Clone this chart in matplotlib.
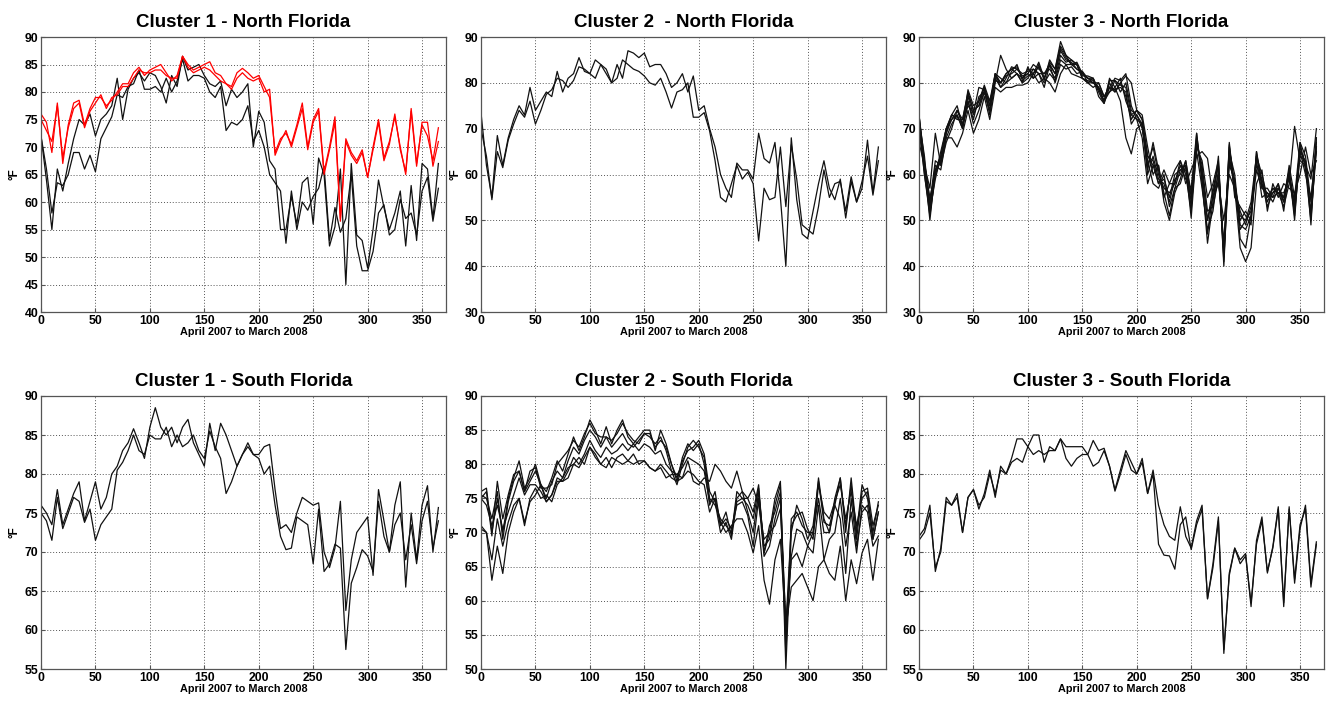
import numpy as np
import matplotlib
matplotlib.use("Agg")
import matplotlib.pyplot as plt

plt.rcParams["font.family"] = ["Liberation Sans", "DejaVu Sans"]
plt.rcParams["font.weight"] = "bold"

# day of year, sampled every 5 days (April 2007 to March 2008)
days = np.arange(0, 366, 5)

# ---- Cluster 1 - North Florida ----
c1n_red_a = [76, 74.5, 69, 78, 67, 74, 78, 78.5, 74, 77,
             79, 79, 77.5, 78.5, 80, 81.5, 81.5, 83.5, 84.5, 83,
             84, 84.5, 85, 83.5, 82, 83, 86.5, 85, 84, 84.5,
             85, 85.5, 83.5, 83, 81.5, 81, 83.5, 84.3, 83.5, 82.5,
             83, 81, 79, 69, 71.5, 72.5, 70.5, 74, 78, 70,
             75, 77, 65.5, 70, 75.5, 57, 71.5, 69, 67.5, 69.5,
             64.5, 70, 75, 68, 71, 75.5, 70, 65, 77, 67,
             74, 72, 67.5, 73.5]
c1n_red_b = [75, 73, 71, 77.5, 68, 73.5, 77, 78, 73.5, 76.5,
             78, 79.5, 77, 79, 79.5, 81, 81, 82.5, 84, 83.5,
             83.5, 84, 84, 83, 82.5, 82.5, 86.5, 84.5, 83.5, 84,
             84.5, 84, 83, 82, 81.5, 80.5, 82.5, 83.5, 82.5, 82,
             82.5, 80, 80.5, 68.5, 71, 73, 70, 73.5, 77, 69.5,
             74.5, 76.5, 65, 69.5, 74.5, 56.5, 71, 68.5, 67, 69,
             64.5, 69.5, 74.5, 67.5, 70.5, 76, 69.5, 65.5, 76.5, 66.5,
             74.5, 74.5, 66.5, 71]
c1n_black_a = [72, 64, 55, 66, 62, 67, 71.5, 75, 74, 76,
               72, 75, 76, 77.5, 82.5, 75, 80.5, 82.5, 83.5, 82,
               83.5, 83, 81, 78, 83, 81, 86.5, 84, 84.5, 85,
               83, 81.5, 81, 82, 77.5, 80.5, 79, 80, 81.5, 70,
               76.5, 74.5, 67.5, 66, 55, 55, 61, 56, 63.5, 64.5,
               56, 68, 65, 52, 55.5, 66, 45, 67, 54, 53,
               48, 55, 64, 59, 55, 58, 62, 52, 63, 53,
               67, 66, 57, 67]
c1n_black_b = [72, 66, 58, 63.5, 63, 65, 69, 69, 66, 68.5,
               65.5, 71.5, 73.5, 75.5, 79.5, 79, 81, 81.5, 84, 80.5,
               80.5, 81, 80, 82.5, 80, 82, 86, 82, 83, 83,
               82.5, 80, 79, 81, 73, 74.5, 74, 75, 77.5, 71,
               73, 70, 65, 63.5, 62, 52.5, 62, 55, 60, 58.5,
               61, 62.5, 66.5, 53, 59, 54.5, 57, 65, 52, 47.5,
               47.5, 51, 58, 59.5, 54, 55, 60.5, 57, 58, 54,
               62, 64.5, 56.5, 62.5]

# ---- Cluster 2 - North Florida ----
c2n_a = [73.5, 62, 55, 68.5, 62, 68, 72, 75, 73, 79,
         74, 76, 78, 77, 82.5, 78, 81, 82, 85.5, 82.5,
         82, 85, 84, 82, 80, 84, 81, 87, 86.5, 85.5,
         86.5, 83.5, 84, 84, 82, 79, 80, 82, 78, 81.5,
         74, 75, 70, 66, 60, 57, 55, 62.5, 61, 61,
         59, 69, 63.5, 62.5, 67, 55, 40, 68, 54.5, 47,
         46, 52, 58, 63, 57, 54.5, 59, 50.5, 58.5, 54,
         57, 67.5, 56, 66]
c2n_b = [70, 64, 54.5, 65, 61.5, 67.5, 71, 74, 72.5, 76,
         71, 74, 77.5, 78.5, 81, 80.5, 79, 80.5, 83.5, 83,
         82, 81, 84, 83, 80, 81, 85, 84, 83, 82.5,
         81.5, 80, 79.5, 81, 78, 74.5, 78, 78.5, 80, 72.5,
         72.5, 73.5, 69.5, 63, 55, 54, 58, 62, 59, 60.5,
         58, 45.5, 57, 54.5, 55, 66, 53, 66.5, 59, 49,
         48, 47, 53, 61, 55, 58, 58.5, 52, 59.5, 54,
         58.5, 64, 55.5, 63]

# ---- Cluster 3 - North Florida ----
c3n_1 = [73, 62, 50, 61, 63, 69, 73, 72.5, 71, 77,
         73, 76, 79, 75, 81.5, 80, 82, 83, 83.5, 81,
         83, 82, 83.5, 81, 84, 82, 87, 85, 84.5, 83,
         82, 81, 80.5, 79, 76, 80, 78, 80, 77, 72,
         74, 72, 64, 63, 58, 59, 55, 60, 61, 62,
         54, 68, 60, 50, 55, 60, 43, 66, 58, 51,
         50, 52, 64, 58, 55, 56, 57, 55, 60, 53,
         66, 62, 52, 66]
c3n_2 = [72, 64, 52, 59, 64, 70, 72, 74, 72, 78,
         74, 75, 78, 74, 82, 79, 81, 83.5, 83, 81.5,
         82, 81, 84, 80.5, 85, 83, 88, 86, 85, 84,
         81.5, 81.5, 81, 78, 75.5, 81, 79, 81, 76, 73,
         72, 71, 62, 66, 60, 57, 56, 58, 63, 60,
         52, 69, 58, 47, 56, 62, 41, 67, 56, 50,
         52, 50, 65, 57, 56, 55, 58, 54, 62, 55,
         67, 64, 54, 68]
c3n_3 = [73, 61, 53, 62, 61, 68, 71, 73, 70, 76,
         72, 77, 78, 76, 80.5, 80, 81.5, 82, 83, 82,
         82.5, 83, 82, 82, 83, 81, 86, 84.5, 85, 84,
         81, 80.5, 80, 80, 77, 79, 78.5, 79, 78, 71,
         73, 71, 60, 64, 59, 58, 54, 59, 60, 63,
         56, 67, 62, 52, 53, 59, 45, 64, 57, 52,
         49, 53, 62, 59, 54, 57, 56, 56, 59, 52,
         64, 63, 51, 65]
c3n_4 = [70, 62, 57, 69, 62, 67, 70, 74, 71, 75,
         73.5, 79, 78.5, 73, 80, 86, 83, 81, 82, 80,
         81, 83, 82, 80, 82, 80.5, 85, 84, 84, 83,
         82.5, 81, 80, 79, 76, 78, 79, 76, 68, 64.5,
         70, 71, 61, 67, 61, 56, 51, 57, 58, 62,
         50.5, 66, 63, 55, 58, 63, 42, 62, 59, 46,
         44, 51, 61, 57, 57, 55, 56, 53, 58, 70.5,
         63, 62, 59, 70]
c3n_5 = [67, 62, 55, 60, 63, 68, 68, 66, 69, 74,
         69, 72, 77, 72, 79, 78, 79, 79, 79.5, 79.5,
         80, 82, 80, 81, 80, 78, 82, 84, 82, 81.5,
         81, 80, 81, 77, 75.5, 79, 81, 80.5, 82, 75,
         72, 68, 58, 62, 58, 61, 58, 61, 63, 58,
         61, 64, 65, 63.5, 55, 58, 50, 60, 57, 44,
         41, 44, 58, 61, 52, 58, 55, 58, 57, 56,
         60, 66, 60, 63]
c3n_6 = [72, 60, 51, 60, 65, 70, 73, 75, 70.5, 78.5,
         75, 76, 79.5, 76, 82, 81, 80, 82.5, 84, 80.5,
         81.5, 82, 84.5, 81, 84.5, 83, 89, 86, 84, 84.5,
         82, 81, 81, 78.5, 76, 80.5, 80.5, 79.5, 79, 73,
         74, 73, 66, 60, 62, 55, 58, 58, 62, 59,
         57, 69, 59, 45, 54, 64, 40, 66.5, 55, 53,
         51, 49, 65, 58, 53, 56, 58, 52, 61, 50,
         67, 61, 50, 67]
c3n_7 = [73, 63, 54, 63, 62, 69, 72, 73, 70, 76,
         71, 74, 78, 74, 81, 79, 80, 81, 82, 80,
         83.5, 81, 82, 79, 84, 80, 84, 83, 83.5, 82,
         82.5, 80, 79, 80, 77, 78, 80.5, 78, 80, 74,
         73, 70, 63, 58, 57, 60, 53, 57, 61, 61,
         53, 65, 57, 48, 52, 61, 44, 63, 58, 49,
         48, 51, 63, 55, 56, 54, 57, 54, 60, 54,
         65, 60, 55, 66]
c3n_8 = [70, 60, 52, 61, 64, 70, 73, 72, 72, 77.5,
         74, 75, 79, 75, 82, 80, 82, 83, 82, 81,
         82, 84, 83, 82, 84, 82, 87.5, 85.5, 84, 84,
         81, 80, 80, 79, 77, 79, 78, 80, 81.5, 80,
         74, 72, 64, 62, 62, 54, 50, 56, 59, 63,
         55, 67, 61, 50, 57, 62, 43, 65, 60, 48,
         50, 54, 64, 60, 55, 57, 56, 55, 61, 51,
         65, 63, 49, 68]

# ---- Cluster 1 - South Florida ----
c1s_a = [76, 75, 73.5, 78, 73.5, 75.5, 77.5, 79, 74, 76.5,
         79, 75.5, 77, 80, 81, 83, 84, 85.8, 84, 82,
         86, 88.5, 86, 85, 86, 84, 86, 87, 84, 82.5,
         81, 86.5, 83, 86.5, 85, 83, 81, 82.5, 83.5, 82.5,
         82.5, 83.5, 83.8, 78, 73, 73.5, 72.5, 75, 77, 76.5,
         76, 76.3, 70, 68, 70.5, 76.5, 62.5, 69, 72.5, 73.5,
         74.5, 67, 78, 74, 70, 76, 79, 65.5, 75, 69,
         76, 78.5, 70, 75.7]
c1s_b = [75, 74, 71.5, 77, 73, 75, 77, 76.5, 73.8, 75.5,
         71.5, 73.5, 74.5, 75.5, 80.5, 81.5, 83, 85, 83, 82.5,
         85, 84.5, 84.5, 86, 83.5, 85, 83.5, 84, 85, 83,
         82, 85.5, 83.5, 82, 77.5, 79, 81, 82.5, 84, 82.5,
         82, 80, 81, 76, 72, 70.3, 70.5, 74.5, 74, 73.5,
         68.5, 75.5, 67.5, 68.5, 71, 70.5, 57.5, 66, 68, 70.3,
         69.5, 67.5, 76.5, 72, 70, 73.5, 75, 69, 73.5, 68.5,
         74, 76.5, 70.5, 74]

# ---- Cluster 2 - South Florida ----
c2s_1 = [76, 76.5, 70, 75, 70, 75, 78, 80.5, 76.5, 78,
         80, 77, 76, 78, 80.5, 79, 81.5, 84, 82, 84,
         86.5, 85, 83, 85.5, 83, 85, 86.5, 84, 83, 84,
         85, 85, 82, 85, 83, 80, 77.5, 81, 83, 82,
         83, 80, 74, 76, 71, 73, 69.5, 76, 75, 75,
         73, 77, 67, 70, 75, 77.5, 52, 72, 73, 71,
         70, 70, 78, 72, 70, 75, 78, 70, 78, 70,
         77, 75, 70, 74.5]
c2s_2 = [75, 76, 69.5, 77.5, 72, 75.5, 78.5, 79, 76, 79,
         79.5, 76.5, 76.5, 77, 80, 81, 82, 83.5, 82.5, 84.5,
         86, 84.5, 84, 84, 83.5, 84.5, 86, 84.5, 83.5, 83,
         84.5, 84, 83, 84, 82, 79, 77, 80, 82.5, 83.5,
         82.5, 81, 75, 74, 72, 71, 70, 75, 76, 73,
         70, 76, 68, 69, 74, 77, 50, 70, 74, 72,
         69, 71, 77.5, 71.5, 71, 74, 78, 71, 77, 69,
         76, 76.5, 71, 74]
c2s_3 = [75.5, 75, 72, 76, 69, 74.5, 77.5, 79, 76, 77.5,
         79, 77, 75, 77.5, 79, 78, 80.5, 82.5, 81.5, 83.5,
         85, 84, 82.5, 84, 82.5, 83.5, 84.5, 83, 82.5, 83.5,
         84.5, 84.5, 82.5, 83.5, 82.5, 80, 78, 80.5, 82, 82.5,
         83.5, 81.5, 76, 74.5, 70, 71.5, 69, 74.5, 75, 74,
         72, 76.5, 67, 71, 73, 76, 56, 71, 72.5, 73,
         70.5, 69, 77, 73, 72, 74.5, 77, 72, 76, 71,
         75, 76, 69, 73]
c2s_4 = [75, 74, 71, 74, 70.5, 73, 75.5, 78, 75.5, 77,
         77, 76, 74.5, 75.5, 78, 77.5, 79, 81, 80, 81.5,
         83.5, 82, 81, 82.5, 81.5, 82, 83, 82, 83, 82,
         83, 82.5, 81.5, 82, 80, 79, 78.5, 79.5, 81, 80.5,
         80, 79, 74.5, 75, 71, 72, 70.5, 74, 74.5, 72.5,
         68, 75, 66.5, 68, 72, 75, 54, 66.5, 70.5, 70,
         68, 67, 74, 66, 69, 70, 75, 68, 73, 67,
         74, 73, 68, 69.5]
c2s_5 = [70.5, 70, 66, 72, 68, 71.5, 74, 75, 71.5, 74.5,
         75.5, 77, 74.5, 75.5, 77.5, 77.5, 78, 80, 79.5, 81,
         82.5, 81.5, 80, 81, 79.5, 81, 81.5, 80.5, 81.5, 80,
         80.5, 79.5, 79, 80, 79, 78, 77.5, 78, 80.5, 77.5,
         77, 78, 77.5, 80, 79, 77.5, 76.5, 79, 76, 75,
         76.5, 74, 69, 70, 71, 73.5, 57, 66, 67, 65,
         68, 70, 75, 70, 70, 74, 72, 64, 75, 68,
         73, 74, 69, 73]
c2s_6 = [71, 70, 63, 68, 64, 70, 73, 75, 71, 75,
         76.5, 75, 75.5, 74.5, 77, 78, 79.5, 80, 81, 80,
         82.5, 81, 80, 79.5, 81, 80.5, 80, 80.5, 80, 80.5,
         80.5, 79.5, 79, 79.5, 78, 78.5, 78.5, 78, 79, 78.5,
         77.5, 77, 73, 75, 71.5, 70, 71, 72, 72, 70,
         67, 71, 63, 59.5, 66, 69, 56, 62, 63, 64,
         62, 60, 65, 66, 64, 63, 68, 60, 66, 62.5,
         67, 69, 63, 69]

# ---- Cluster 3 - South Florida ----
c3s_a = [72, 73, 76, 67.5, 70.5, 77, 76, 77.5, 72.5, 77,
         78, 75.5, 77.5, 80.5, 77, 81, 80, 82, 84.5, 84.5,
         83.5, 85, 85, 81.5, 83.5, 83, 84.5, 83.5, 83.5, 83.5,
         83.5, 82.5, 84.3, 83, 83.3, 81, 78, 80.5, 83, 81.5,
         80, 82, 77.5, 80.5, 76, 73.5, 72, 71.5, 75.8, 72,
         70.5, 74, 76, 64, 68.5, 74.5, 57, 67.3, 70.5, 69,
         69.8, 63, 71.5, 74.5, 67.3, 70.7, 75.8, 63, 75.8, 66,
         73, 76, 66, 71.3]
c3s_b = [71.5, 72.5, 75, 68, 70, 76.5, 76, 77, 72.5, 77,
         78, 76, 77, 80, 77.5, 80.5, 80, 81.5, 82, 81.5,
         83.5, 82.5, 83, 82.5, 83, 83, 84.5, 82, 81, 82,
         82.5, 82.5, 81, 81.5, 83, 81, 77.8, 80, 82.5, 80.5,
         80, 81.5, 77.5, 80, 71, 69.6, 69.5, 67.8, 73.5, 74.5,
         70.3, 73.5, 75.5, 64, 68, 74, 57.5, 67, 70.5, 68.5,
         69.5, 63.5, 71, 74, 67.5, 70.5, 75.5, 63.5, 75.5, 66.5,
         73.5, 75.5, 65.5, 71]

titles = ["Cluster 1 - North Florida", "Cluster 2  - North Florida",
          "Cluster 3 - North Florida", "Cluster 1 - South Florida",
          "Cluster 2 - South Florida", "Cluster 3 - South Florida"]
y_ranges = [(40, 90, 5), (30, 90, 10), (30, 90, 10),
            (55, 90, 5), (50, 90, 5), (55, 90, 5)]
black_series = [[c1n_black_a, c1n_black_b],
                [c2n_a, c2n_b],
                [c3n_1, c3n_2, c3n_3, c3n_4, c3n_5, c3n_6, c3n_7, c3n_8],
                [c1s_a, c1s_b],
                [c2s_1, c2s_2, c2s_3, c2s_4, c2s_5, c2s_6],
                [c3s_a, c3s_b]]
red_series = [[c1n_red_b, c1n_red_a], [], [], [], [], []]

W, H = 1333, 701
fig = plt.figure(figsize=(W / 100, H / 100), dpi=100)

# axes boxes in pixels: left edges per column, top/bottom per row
col_left = [41, 481, 919]
ax_w = 405
row_box = [(37, 312), (396, 669)]

for i in range(6):
    r, c = divmod(i, 3)
    top, bottom = row_box[r]
    ax = fig.add_axes([col_left[c] / W, 1 - bottom / H, ax_w / W, (bottom - top) / H])

    for s in black_series[i]:
        ax.plot(days, s, color="#111111", lw=0.9)
    for s in red_series[i]:
        ax.plot(days, s, color="#ff0000", lw=0.9)

    lo, hi, step = y_ranges[i]
    ax.set_ylim(lo, hi)
    ax.set_yticks(np.arange(lo, hi + 1, step))
    ax.set_xlim(0, 372)
    ax.set_xticks(np.arange(0, 351, 50))

    ax.grid(True, color="#555555", linestyle=(0, (1, 2)), lw=0.7)
    for sp in ax.spines.values():
        sp.set_color("#555555")
        sp.set_linewidth(0.9)
    ax.tick_params(direction="in", length=3, color="#555555", labelsize=8.8, pad=2)
    for lab in ax.get_xticklabels() + ax.get_yticklabels():
        lab.set_fontweight("bold")

    ax.set_title(titles[i], fontsize=13.5, fontweight="bold", pad=7)
    ax.set_xlabel("April 2007 to March 2008", fontsize=7.8, fontweight="bold", labelpad=0)
    ax.set_ylabel("°F", fontsize=8.5, fontweight="bold")
    # unit label sits about 26 px left of the axis, as in the original
    ax.yaxis.set_label_coords(-20 / ax_w, 0.5)

fig.savefig("out.png", dpi=100)
